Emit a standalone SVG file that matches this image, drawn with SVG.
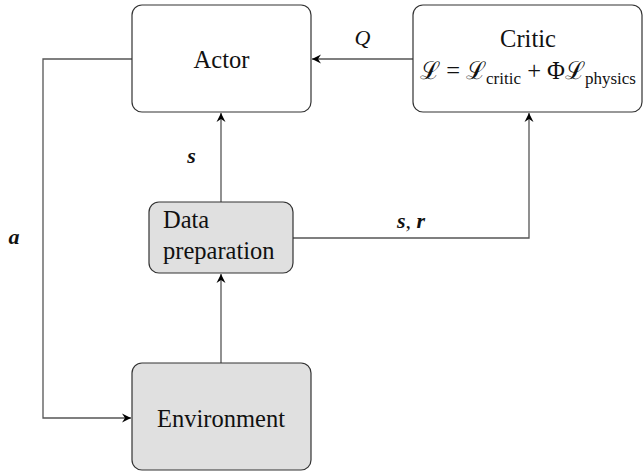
<svg xmlns="http://www.w3.org/2000/svg" width="643" height="472" viewBox="0 0 643 472">
<style>
.box{stroke:#333;stroke-width:1.2}
.w{fill:#fff}
.g{fill:#e0e0e0}
.t{font-size:24.5px;fill:#111}
.m{font-size:22px;font-style:italic;fill:#111}
.b{font-weight:bold}
.c{fill:none;stroke:#555;stroke-width:1.3}
</style>
<defs>
<marker id="ah" viewBox="-10 -5 11 10" refX="0" refY="0" markerWidth="11" markerHeight="10" markerUnits="userSpaceOnUse" orient="auto">
<path d="M0,0 L-9,-4.5 L-6,0 L-9,4.5 Z" fill="#000"/>
</marker>
</defs>
<rect width="643" height="472" fill="#fff"/>
<g font-family="'Liberation Serif', 'DejaVu Serif', serif">
<g id="connectors">
<polyline class="c" points="132,59 43,59 43,418 131,418" marker-end="url(#ah)"/>
<line class="c" x1="413" y1="59" x2="312" y2="59" marker-end="url(#ah)"/>
<line class="c" x1="221" y1="202" x2="221" y2="113" marker-end="url(#ah)"/>
<line class="c" x1="221" y1="363" x2="221" y2="274" marker-end="url(#ah)"/>
<polyline class="c" points="293,238 529,238 529,113" marker-end="url(#ah)"/>
<text class="m" x="362.5" y="45" text-anchor="middle">Q</text>
<text class="m b" x="191.5" y="163" text-anchor="middle">s</text>
<text class="m b" x="14" y="244" text-anchor="middle">a</text>
<text class="m" x="411" y="228" text-anchor="middle"><tspan class="b">s</tspan><tspan font-style="normal">, </tspan><tspan class="b">r</tspan></text>
</g>
<g id="actor">
<rect class="box w" x="132" y="5" width="179" height="107" rx="10"/>
<text class="t" x="221.5" y="67.5" text-anchor="middle">Actor</text>
</g>
<g id="critic">
<rect class="box w" x="413" y="5" width="229" height="107" rx="10"/>
<text class="t" x="528" y="47" text-anchor="middle">Critic</text>
<text class="t" x="528" y="79" text-anchor="middle">ℒ = ℒ<tspan font-size="17" dy="5">critic</tspan><tspan dy="-5"> + Φℒ</tspan><tspan font-size="17" dy="5">physics</tspan></text>
</g>
<g id="data-preparation">
<rect class="box g" x="149" y="202" width="144" height="71" rx="10"/>
<text class="t" x="163" y="228">Data</text>
<text class="t" x="163" y="259">preparation</text>
</g>
<g id="environment">
<rect class="box g" x="132" y="363" width="179" height="107" rx="10"/>
<text class="t" x="221" y="426.5" text-anchor="middle">Environment</text>
</g>
</g>
</svg>
